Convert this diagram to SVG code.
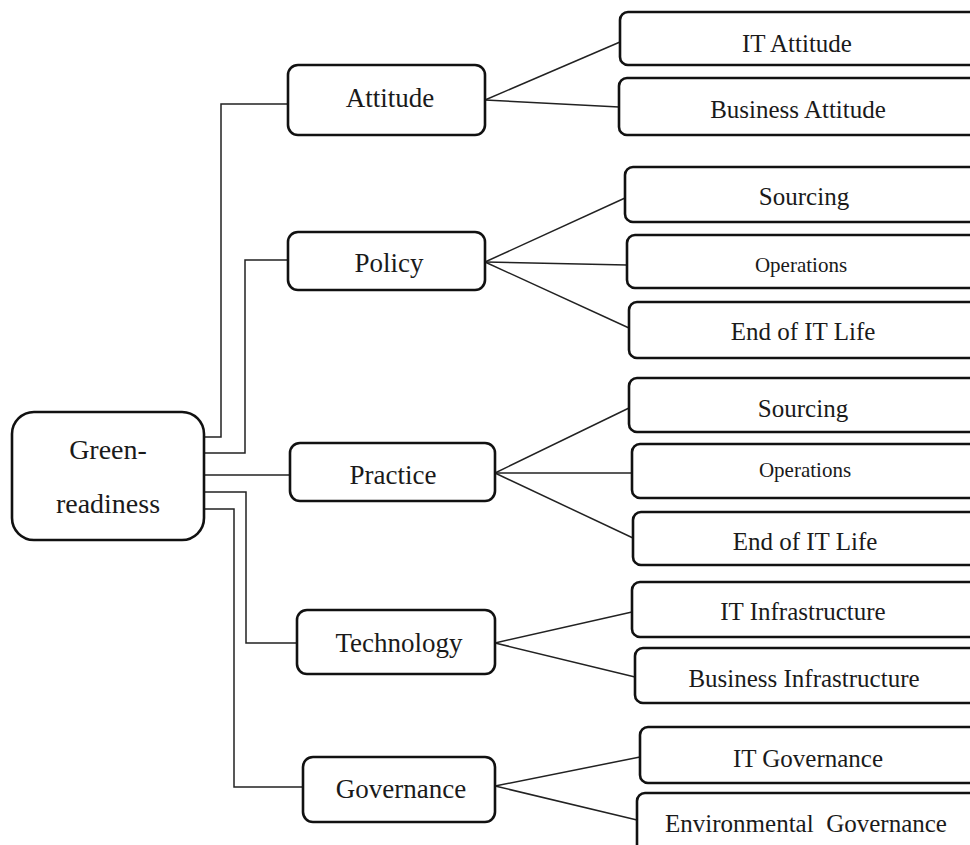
<svg xmlns="http://www.w3.org/2000/svg" width="970" height="845" viewBox="0 0 970 845">
<style>
  .box { fill: #fff; stroke: #111; stroke-width: 2.6; }
  .con { fill: none; stroke: #222; stroke-width: 1.5; }
  text { font-family: "Liberation Serif", "Times New Roman", serif; fill: #1a1a1a; text-anchor: middle; }
  .root { font-size: 28px; }
  .cat { font-size: 27px; }
  .leaf { font-size: 25px; }
  .small { font-size: 21px; }
</style>
<rect x="0" y="0" width="970" height="845" fill="#fff"/>
<g id="connectors">
  <polyline class="con" points="204,437 221,437 221,104 288,104"/>
  <polyline class="con" points="204,453 245,453 245,260 288,260"/>
  <polyline class="con" points="204,475 290,475"/>
  <polyline class="con" points="204,492 246,492 246,643 297,643"/>
  <polyline class="con" points="204,509 234,509 234,787 303,787"/>
  <line class="con" x1="485" y1="100" x2="620" y2="42"/>
  <line class="con" x1="485" y1="100" x2="619" y2="107"/>
  <line class="con" x1="485" y1="262" x2="625" y2="198"/>
  <line class="con" x1="485" y1="262" x2="627" y2="265"/>
  <line class="con" x1="485" y1="262" x2="629" y2="328"/>
  <line class="con" x1="495" y1="473" x2="629" y2="408"/>
  <line class="con" x1="495" y1="473" x2="632" y2="473"/>
  <line class="con" x1="495" y1="473" x2="633" y2="538"/>
  <line class="con" x1="495" y1="643" x2="632" y2="612"/>
  <line class="con" x1="495" y1="643" x2="635" y2="677"/>
  <line class="con" x1="495" y1="786" x2="640" y2="757"/>
  <line class="con" x1="495" y1="786" x2="637" y2="820"/>
</g>
<g id="green-readiness">
  <rect class="box" x="12" y="412" width="192" height="128" rx="22"/>
  <text class="root" x="108" y="459">Green-</text>
  <text class="root" x="108" y="513">readiness</text>
</g>
<g id="attitude">
  <rect class="box" x="288" y="65" width="197" height="70" rx="10"/>
  <text class="cat" x="390" y="107">Attitude</text>
</g>
<g id="policy">
  <rect class="box" x="288" y="232" width="197" height="58" rx="10"/>
  <text class="cat" x="389" y="272">Policy</text>
</g>
<g id="practice">
  <rect class="box" x="290" y="443" width="205" height="58" rx="10"/>
  <text class="cat" x="393" y="484">Practice</text>
</g>
<g id="technology">
  <rect class="box" x="297" y="610" width="198" height="64" rx="10"/>
  <text class="cat" x="399" y="652">Technology</text>
</g>
<g id="governance">
  <rect class="box" x="303" y="757" width="192" height="65" rx="10"/>
  <text class="cat" x="401" y="798">Governance</text>
</g>
<g id="it-attitude">
  <rect class="box" x="620" y="12" width="370" height="53" rx="8"/>
  <text class="leaf" x="797" y="52">IT Attitude</text>
</g>
<g id="business-attitude">
  <rect class="box" x="619" y="78" width="371" height="57" rx="8"/>
  <text class="leaf" x="798" y="118">Business Attitude</text>
</g>
<g id="policy-sourcing">
  <rect class="box" x="625" y="167" width="365" height="55" rx="8"/>
  <text class="leaf" x="804" y="205">Sourcing</text>
</g>
<g id="policy-operations">
  <rect class="box" x="627" y="235" width="363" height="53" rx="8"/>
  <text class="small" x="801" y="272">Operations</text>
</g>
<g id="policy-end-of-it-life">
  <rect class="box" x="629" y="302" width="361" height="56" rx="8"/>
  <text class="leaf" x="803" y="340">End of IT Life</text>
</g>
<g id="practice-sourcing">
  <rect class="box" x="629" y="378" width="361" height="54" rx="8"/>
  <text class="leaf" x="803" y="417">Sourcing</text>
</g>
<g id="practice-operations">
  <rect class="box" x="632" y="444" width="358" height="54" rx="8"/>
  <text class="small" x="805" y="477">Operations</text>
</g>
<g id="practice-end-of-it-life">
  <rect class="box" x="633" y="512" width="357" height="53" rx="8"/>
  <text class="leaf" x="805" y="550">End of IT Life</text>
</g>
<g id="it-infrastructure">
  <rect class="box" x="632" y="582" width="358" height="55" rx="8"/>
  <text class="leaf" x="803" y="620">IT Infrastructure</text>
</g>
<g id="business-infrastructure">
  <rect class="box" x="635" y="648" width="355" height="55" rx="8"/>
  <text class="leaf" x="804" y="687">Business Infrastructure</text>
</g>
<g id="it-governance">
  <rect class="box" x="640" y="727" width="350" height="56" rx="8"/>
  <text class="leaf" x="808" y="767">IT Governance</text>
</g>
<g id="environmental-governance">
  <rect class="box" x="637" y="793" width="353" height="70" rx="8"/>
  <text class="leaf" x="806" y="832" xml:space="preserve">Environmental  Governance</text>
</g>
</svg>
